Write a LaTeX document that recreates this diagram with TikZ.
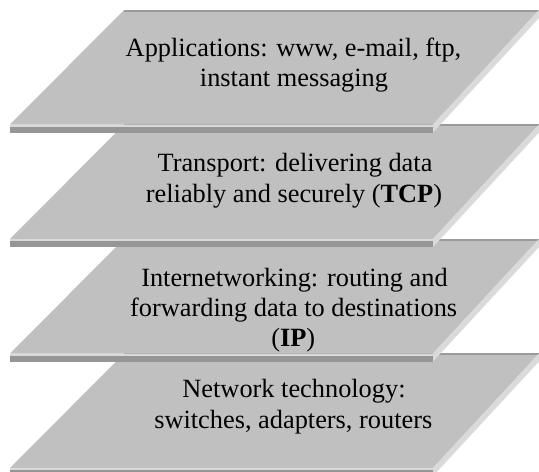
\documentclass[tikz,border=0pt]{standalone}
\usepackage{fontspec}
\setmainfont{Liberation Serif}
\usepackage{tikz}
\usetikzlibrary{calc}
\definecolor{slabtop}{RGB}{192,192,192}
\definecolor{slabfront}{RGB}{150,150,150}
\definecolor{slabside}{RGB}{218,218,218}
\colorlet{slabrim}{slabtop!80!black}
\colorlet{slablip}{slabtop!60!white}
\tikzset{
  layertext/.style={anchor=base, inner sep=0pt, font=\fontsize{13.17}{15.3}\selectfont}
}

\begin{document}
\begin{tikzpicture}[x=0.5pt,y=-0.5pt]
  \useasboundingbox (0,0) rectangle (539,471);
  % slabs, lowest first so the upper ones cover them
  \foreach \t in {353.5,239,124.5,10}{
    \pgfmathsetmacro{\b}{\t+114.5}
    \fill[slabtop] (10,\b) -- (433,\b) -- (539,\t) -- (124,\t) -- cycle;
    \draw[slabrim, line width=0.8pt] (124,\t+0.7) -- (539,\t+0.7);
    \fill[slabside] (433,\b) -- (539,\t) -- (539,\t+8) -- (433,\b+8) -- cycle;
    \fill[slablip] (10,\b) rectangle (433,\b+2);
    \fill[slabfront] (10,\b+2) rectangle (433,\b+8);
  }
  % labels
  \node[layertext] (app1) at (293.5,56.7) {Applications: www, e-mail, ftp,};
  \node[layertext] (app2) at (294,86.7) {instant messaging};
  \node[layertext] (tcp1) at (295,171.7) {Transport: delivering data};
  \node[layertext] (tcp2) at (294,202.5) {reliably and securely (\textbf{TCP})};
  \node[layertext] (ip1) at (294.5,286) {Internetworking: routing and};
  \node[layertext] (ip2) at (293.7,316.7) {forwarding data to destinations};
  \node[layertext] (ip3) at (293.3,346.7) {(\textbf{IP})};
  \node[layertext] (net1) at (294,397.3) {Network technology:};
  \node[layertext] (net2) at (293.3,428.3) {switches, adapters, routers};
\end{tikzpicture}
\end{document}
